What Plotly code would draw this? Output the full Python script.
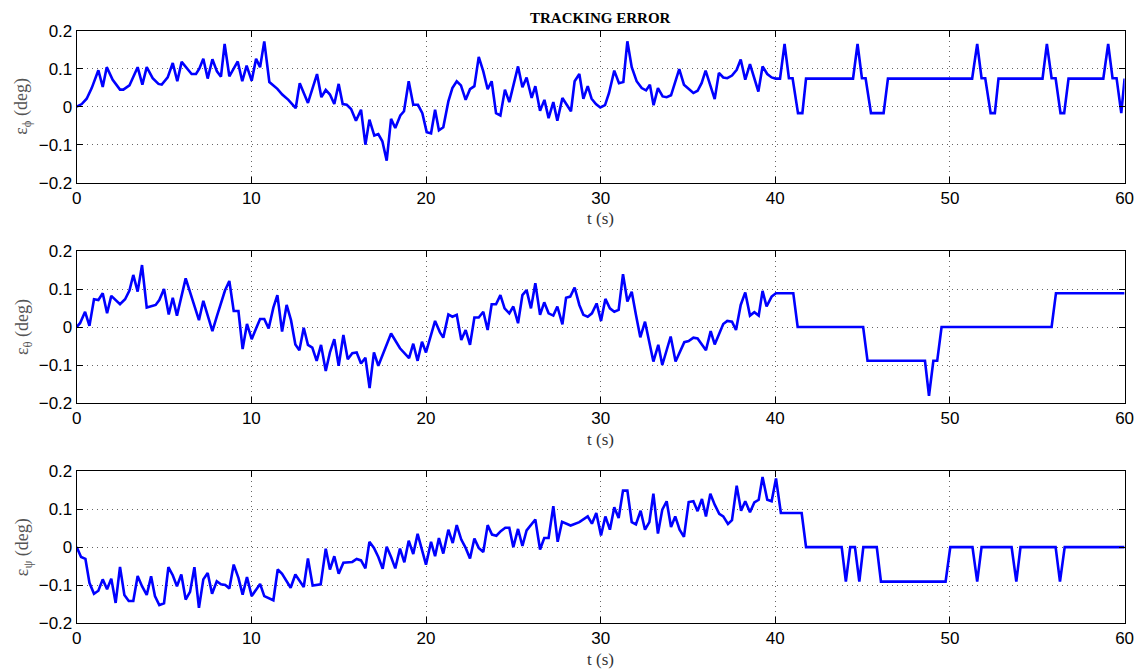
import plotly.graph_objects as go

# ---------------- data ----------------
phi_t = [0, 0.29, 0.57, 0.86, 1.24, 1.49, 1.72, 2.06, 2.48, 2.67,
         3.02, 3.49, 3.76, 4.01, 4.35, 4.68, 4.87, 5.21, 5.50, 5.76,
         6.01, 6.39, 6.58, 6.83, 7.02, 7.25, 7.50, 7.77, 8.03, 8.26,
         8.47, 8.74, 9.22, 9.48, 9.73, 10.02, 10.27, 10.50, 10.74, 11.03,
         11.49, 11.77, 12.12, 12.54, 12.77, 13.24, 13.76, 14.01, 14.26, 14.50,
         14.75, 15.00, 15.23, 15.46, 15.71, 15.99, 16.28, 16.53, 16.76, 17.04,
         17.27, 17.50, 17.75, 18.00, 18.24, 18.53, 18.74, 19.01, 19.27, 19.54,
         19.79,
         20.04, 20.29, 20.52, 20.74, 20.99, 21.28, 21.51, 21.76, 22.00, 22.27,
         22.52, 22.77, 23.02, 23.28, 23.53, 23.76, 24.01, 24.26, 24.52, 24.77,
         25.27, 25.52, 25.76, 26.05, 26.26, 26.53, 26.78, 27.02, 27.29, 27.52,
         27.81, 28.05, 28.30, 28.51, 28.78, 29.01, 29.26, 29.48, 29.73, 29.98,
         30.25, 30.48, 30.78, 31.05, 31.30, 31.53, 31.78, 32.06, 32.35, 32.60,
         32.82, 33.03, 33.28, 33.55, 33.78, 34.03, 34.50, 34.77, 35.04, 35.31,
         35.55, 35.78, 36.01, 36.53, 36.77, 37.02, 37.25, 37.52, 37.79, 38.02,
         38.28, 38.55, 39.03, 39.27, 39.54, 39.79,
         40.02, 40.27, 40.53, 40.78, 40.99, 41.30, 41.55, 41.76,
         44.45, 44.71, 44.96, 45.17, 45.48, 46.20, 46.45,
         51.27, 51.56, 51.81, 52.02, 52.33, 52.57, 52.78,
         55.30, 55.55, 55.82, 56.05, 56.33, 56.54, 56.79,
         58.78, 59.06, 59.31, 59.54, 59.81, 60.0]
phi_v = [0, 0.007, 0.021, 0.049, 0.096, 0.052, 0.104, 0.071, 0.045, 0.045,
         0.056, 0.104, 0.058, 0.104, 0.075, 0.060, 0.058, 0.077, 0.115, 0.067,
         0.118, 0.095, 0.086, 0.086, 0.100, 0.126, 0.074, 0.125, 0.093, 0.079,
         0.165, 0.080, 0.119, 0.067, 0.108, 0.068, 0.126, 0.104, 0.172, 0.065,
         0.047, 0.032, 0.018, -0.004, 0.062, 0.010, 0.086, 0.025, 0.044, 0.032,
         0.007, 0.060, 0.007, 0.005, -0.006, -0.037, -0.008, -0.100, -0.034, -0.076,
         -0.072, -0.091, -0.142, -0.032, -0.056, -0.023, -0.012, 0.067, 0.005, 0.005,
         -0.017,
         -0.067, -0.070, -0.008, -0.062, -0.054, 0.014, 0.049, 0.067, 0.056, 0.018,
         0.046, 0.054, 0.131, 0.093, 0.046, 0.067, -0.017, -0.023, 0.045, 0.012,
         0.106, 0.051, 0.077, 0.023, 0.054, -0.011, 0.018, -0.030, 0.012, -0.037,
         0.023, 0.005, -0.012, 0.067, 0.086, 0.021, 0.054, 0.021, 0.007, -0.002,
         0.004, 0.036, 0.095, 0.062, 0.065, 0.172, 0.104, 0.067, 0.049, 0.043,
         0.058, 0.004, 0.049, 0.027, 0.025, 0.030, 0.099, 0.058, 0.046, 0.036,
         0.042, 0.062, 0.095, 0.020, 0.089, 0.077, 0.075, 0.082, 0.097, 0.124,
         0.071, 0.112, 0.040, 0.106, 0.086, 0.077,
         0.074, 0.074, 0.165, 0.075, 0.075, -0.017, -0.017, 0.074,
         0.074, 0.165, 0.075, 0.075, -0.017, -0.017, 0.074,
         0.074, 0.165, 0.075, 0.075, -0.017, -0.017, 0.074,
         0.074, 0.165, 0.075, 0.075, -0.017, -0.017, 0.074,
         0.074, 0.165, 0.075, 0.075, -0.017, 0.074]

theta_t = [0, 0.19, 0.48, 0.73, 0.99, 1.24, 1.49, 1.74, 1.98, 2.48,
           2.77, 3.02, 3.24, 3.49, 3.74, 4.01, 4.52, 4.73, 5.00, 5.27,
           5.50, 5.74, 6.24, 6.74, 7.00, 7.25, 7.77, 8.02, 8.49, 8.74,
           8.99, 9.26, 9.50, 9.75, 10.02, 10.27, 10.50, 10.74, 10.99, 11.26,
           11.49, 11.76, 12.02, 12.27, 12.52, 12.75, 13.00, 13.24, 13.49, 13.74,
           13.99, 14.26, 14.50, 14.75, 15.00, 15.27, 15.52, 15.78, 16.03, 16.28,
           16.53, 16.77, 17.02, 17.27, 18.00, 18.51, 19.03, 19.27, 19.52, 19.77,
           20.00, 20.52, 20.80, 20.99, 21.28, 21.51, 21.76, 22.02, 22.27, 22.52,
           22.77, 23.02, 23.28, 23.53, 23.76, 24.01, 24.26, 24.50, 24.77, 25.00,
           25.27, 25.52, 25.76, 26.01, 26.26, 26.53, 26.77, 27.02, 27.29, 27.52,
           27.81, 28.02, 28.26, 28.51, 28.78, 29.01, 29.26, 29.50, 29.77, 30.02,
           30.27, 30.53, 30.78, 31.03, 31.28, 31.53, 31.78, 32.02, 32.27, 32.54,
           32.80, 33.02, 33.30, 33.53, 34.01, 34.29, 34.79, 35.04, 35.31, 35.55,
           36.03, 36.30, 36.53, 37.02, 37.25, 37.52, 37.75, 38.02, 38.28, 38.55,
           38.80, 39.05, 39.27, 39.50, 39.79, 40.04,
           41.03, 41.28, 45.03, 45.28, 48.57, 48.80, 49.05, 49.27, 49.52,
           55.82, 56.07, 60.0]
theta_v = [0, 0.010, 0.040, 0.003, 0.073, 0.071, 0.089, 0.036, 0.082, 0.060,
           0.073, 0.096, 0.137, 0.093, 0.163, 0.051, 0.058, 0.071, 0.100, 0.033,
           0.077, 0.030, 0.128, 0.058, 0.018, 0.069, -0.011, 0.027, 0.096, 0.121,
           0.042, 0.042, -0.058, 0.008, -0.032, -0.004, 0.021, 0.021, -0.004, 0.051,
           0.084, -0.012, 0.058, 0.018, -0.046, -0.061, -0.002, -0.047, -0.054, -0.089,
           -0.047, -0.116, -0.067, -0.032, -0.102, -0.021, -0.085, -0.069, -0.067, -0.096,
           -0.081, -0.161, -0.067, -0.102, -0.017, -0.056, -0.082, -0.044, -0.089, -0.039,
           -0.067, 0.016, -0.014, -0.028, 0.033, 0.027, 0.032, -0.034, -0.008, -0.047,
           0.025, 0.025, 0.040, -0.008, 0.060, 0.060, 0.084, 0.049, 0.036, 0.054,
           0.010, 0.084, 0.097, 0.049, 0.115, 0.032, 0.065, 0.036, 0.030, 0.054,
           0.007, 0.077, 0.080, 0.104, 0.058, 0.032, 0.027, 0.036, 0.062, 0.016,
           0.074, 0.049, 0.040, 0.045, 0.139, 0.067, 0.093, 0.032, -0.027, 0.014,
           -0.039, -0.091, -0.047, -0.100, -0.025, -0.091, -0.040, -0.037, -0.028, -0.030,
           -0.061, -0.011, -0.046, 0.008, 0.016, 0.014, -0.008, 0.058, 0.091, 0.030,
           0.039, 0.030, 0.095, 0.054, 0.080, 0.089,
           0.089, 0.0, 0.0, -0.089, -0.089, -0.181, -0.089, -0.089, 0.0,
           0.0, 0.089, 0.089]

psi_t = [0, 0.25, 0.50, 0.73, 0.99, 1.24, 1.49, 1.74, 1.98, 2.23,
         2.48, 2.73, 2.98, 3.24, 3.49, 3.74, 4.01, 4.26, 4.48, 4.73,
         5.00, 5.25, 5.50, 5.74, 5.99, 6.24, 6.49, 6.74, 7.00, 7.25,
         7.50, 7.75, 8.02, 8.26, 8.51, 8.74, 8.99, 9.26, 9.50, 9.75,
         10.02, 10.50, 10.74, 11.26, 11.51, 11.76, 12.25, 12.52, 13.00, 13.24,
         13.51, 13.97, 14.26, 14.50, 14.75, 15.00, 15.27, 15.78, 16.03, 16.28,
         16.53, 16.76, 17.02, 17.27, 17.52, 17.75, 18.00, 18.24, 18.51, 18.76,
         19.01, 19.27, 19.52, 19.79,
         20.00, 20.29, 20.52, 20.74, 20.99, 21.28, 21.53, 21.76, 22.02, 22.27,
         22.52, 22.77, 23.02, 23.28, 23.53, 23.78, 24.03, 24.28, 24.54, 24.77,
         25.00, 25.27, 25.52, 25.76, 26.26, 26.53, 26.77, 27.02, 27.29, 27.54,
         27.79, 28.28, 28.78, 29.26, 29.50, 29.75, 30.02, 30.27, 30.53, 30.78,
         31.03, 31.28, 31.53, 31.78, 32.02, 32.29, 32.54, 32.79, 33.02, 33.28,
         33.53, 33.78, 34.03, 34.27, 34.52, 34.77, 35.04, 35.31, 35.55, 35.80,
         36.03, 36.28, 36.53, 36.79, 37.02, 37.29, 37.52, 37.79, 38.04, 38.28,
         38.55, 38.80, 39.05, 39.27, 39.54, 39.79, 40.04, 40.32,
         41.51, 41.76, 43.80, 44.04, 44.29, 44.56, 44.81, 45.04, 45.81, 46.05,
         49.75, 50.02, 51.29, 51.56, 51.81, 53.53, 53.80, 54.04, 56.05, 56.30,
         56.57, 60.0]
psi_v = [0, -0.026, -0.031, -0.094, -0.123, -0.115, -0.085, -0.111, -0.083, -0.147,
         -0.052, -0.126, -0.142, -0.142, -0.076, -0.103, -0.126, -0.077, -0.129, -0.153,
         -0.148, -0.053, -0.074, -0.103, -0.072, -0.138, -0.118, -0.053, -0.160, -0.085,
         -0.068, -0.123, -0.090, -0.098, -0.100, -0.109, -0.046, -0.081, -0.125, -0.079,
         -0.129, -0.097, -0.129, -0.140, -0.059, -0.070, -0.107, -0.072, -0.105, -0.030,
         -0.101, -0.098, -0.004, -0.059, -0.024, -0.070, -0.041, -0.039, -0.031, -0.035,
         -0.056, 0.014, -0.002, -0.026, -0.057, 0.001, -0.026, -0.056, -0.004, -0.040,
         0.017, -0.018, 0.035, -0.009,
         -0.046, 0.014, -0.024, 0.024, -0.017, 0.046, 0.011, 0.058, 0.020, -0.002,
         -0.030, 0.023, -0.002, -0.013, 0.058, 0.033, 0.030, 0.042, 0.051, 0.051,
         0.000, 0.048, 0.003, 0.044, 0.073, -0.006, 0.024, 0.024, 0.108, 0.014,
         0.067, 0.057, 0.066, 0.081, 0.062, 0.090, 0.031, 0.081, 0.046, 0.105,
         0.077, 0.149, 0.149, 0.066, 0.060, 0.096, 0.046, 0.066, 0.141, 0.036,
         0.099, 0.121, 0.053, 0.081, 0.046, 0.027, 0.119, 0.121, 0.095, 0.127,
         0.081, 0.141, 0.112, 0.088, 0.081, 0.061, 0.071, 0.162, 0.096, 0.121,
         0.092, 0.118, 0.125, 0.185, 0.125, 0.121, 0.181, 0.090,
         0.090, 0.0, 0.0, -0.091, 0.0, 0.0, -0.091, 0.0, 0.0, -0.091,
         -0.091, 0.0, 0.0, -0.091, 0.0, 0.0, -0.091, 0.0, 0.0, -0.091,
         0.0, 0.0]

x_tickvals = [0, 10, 20, 30, 40, 50, 60]
x_ticktext = ["0", "10", "20", "30", "40", "50", "60"]
y_tickvals = [-0.2, -0.1, 0, 0.1, 0.2]
y_ticktext = ["\u22120.2", "\u22120.1", "0", "0.1", "0.2"]

y_titles = ["\u03b5<sub>\u03d5</sub> (deg)", "\u03b5<sub>\u03b8</sub> (deg)", "\u03b5<sub>\u03c8</sub> (deg)"]
x_title = "t (s)"
main_title = "TRACKING ERROR"

series = [(phi_t, phi_v), (theta_t, theta_v), (psi_t, psi_v)]

# ---------------- layout ----------------
W, H = 1144, 671
OFF = 8  # page body margin: figure origin sits at page pixel (8, 8)


def px(v):
    return v - OFF


x_dom = [px(76.7) / W, px(1124.6) / W]
# page-pixel tops/bottoms of each panel
panels_px = [(30.7, 182.7), (251.0, 403.0), (471.3, 623.0)]
y_doms = [[(H - px(b)) / H, (H - px(t)) / H] for (t, b) in panels_px]

fig = go.Figure()
tick_font = dict(family="Liberation Sans, Arial, sans-serif", size=17, color="black")
serif = "Liberation Serif, DejaVu Serif, serif"

for i, (tt, vv) in enumerate(series):
    ax = "" if i == 0 else str(i + 1)
    fig.add_trace(go.Scatter(x=tt, y=vv, mode="lines",
                             line=dict(color="#0000FF", width=2.6),
                             xaxis="x" + ax, yaxis="y" + ax, showlegend=False))
    common = dict(showline=True, linecolor="black", linewidth=1, mirror="ticks",
                  ticks="inside", ticklen=6, tickcolor="black", tickwidth=1,
                  showgrid=True, gridcolor="#666666", griddash="1px,4px", gridwidth=1,
                  zeroline=False, tickfont=tick_font, automargin=False)
    fig.layout["xaxis" + ax] = dict(domain=x_dom, range=[0, 60], anchor="y" + ax,
                                    tickvals=x_tickvals, ticktext=x_ticktext, **common)
    fig.layout["yaxis" + ax] = dict(domain=y_doms[i], range=[-0.2, 0.2], anchor="x" + ax,
                                    tickvals=y_tickvals, ticktext=y_ticktext, **common)
    t_px, b_px = panels_px[i]
    # y-axis title
    fig.add_annotation(text=y_titles[i], xref="paper", yref="paper",
                       x=px(23) / W, y=(H - px((t_px + b_px) / 2)) / H, textangle=-90,
                       showarrow=False, xanchor="center", yanchor="middle",
                       font=dict(family=serif, size=18, color="#555555"))
    # x-axis title
    fig.add_annotation(text=x_title, xref="paper", yref="paper",
                       x=(x_dom[0] + x_dom[1]) / 2, y=(H - px(b_px + 36)) / H,
                       showarrow=False, xanchor="center", yanchor="middle",
                       font=dict(family=serif, size=17, color="#333333"))

fig.add_annotation(text="<b>" + main_title + "</b>", xref="paper", yref="paper",
                   x=(x_dom[0] + x_dom[1]) / 2, y=1.0, showarrow=False,
                   xanchor="center", yanchor="top",
                   font=dict(family=serif, size=15, color="black"))

fig.update_layout(width=W, height=H, margin=dict(l=0, r=0, t=0, b=0),
                  paper_bgcolor="white", plot_bgcolor="white")

fig.write_html("out.html")
